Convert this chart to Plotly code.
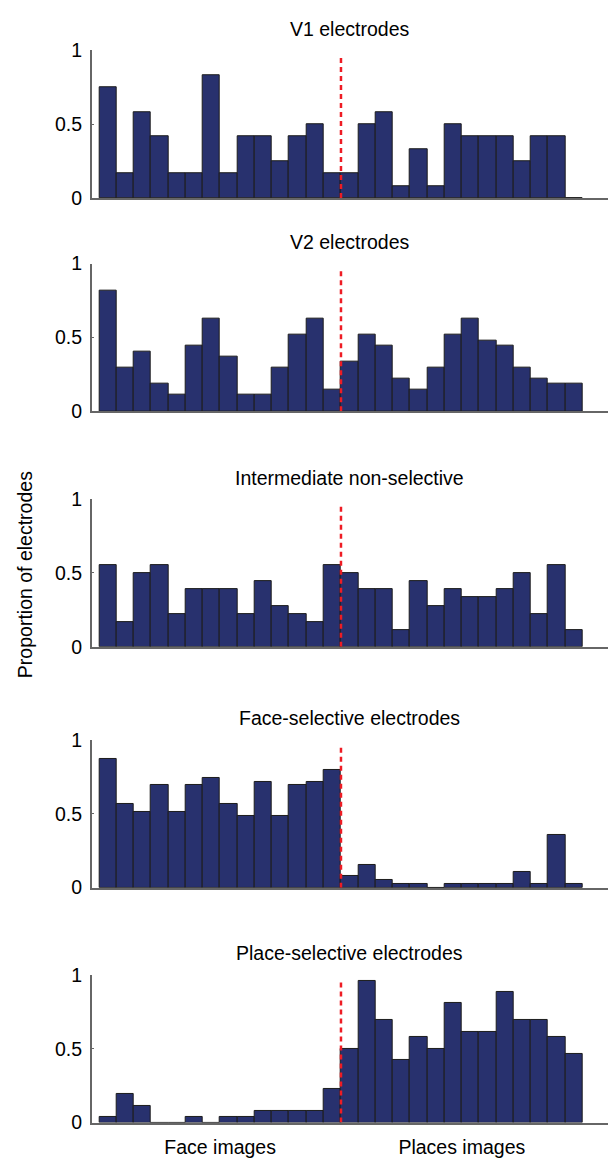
import plotly.graph_objects as go

# Image bins: 14 face images followed by 14 place images
image_index = list(range(1, 29))
boundary = 14.5

panel_titles = [
    "V1 electrodes",
    "V2 electrodes",
    "Intermediate non-selective",
    "Face-selective electrodes",
    "Place-selective electrodes",
]

v1_prop = [0.75, 0.167, 0.583, 0.417, 0.167, 0.167, 0.833, 0.167, 0.417, 0.417,
           0.25, 0.417, 0.5, 0.167, 0.167, 0.5, 0.583, 0.083, 0.333, 0.083,
           0.5, 0.417, 0.417, 0.417, 0.25, 0.417, 0.417, 0.0]
v2_prop = [0.815, 0.296, 0.407, 0.185, 0.111, 0.444, 0.630, 0.370, 0.111, 0.111,
           0.296, 0.519, 0.630, 0.148, 0.333, 0.519, 0.444, 0.222, 0.148, 0.296,
           0.519, 0.630, 0.481, 0.444, 0.296, 0.222, 0.185, 0.185]
inter_prop = [0.556, 0.167, 0.5, 0.556, 0.222, 0.389, 0.389, 0.389, 0.222, 0.444,
              0.278, 0.222, 0.167, 0.556, 0.5, 0.389, 0.389, 0.111, 0.444, 0.278,
              0.389, 0.333, 0.333, 0.389, 0.5, 0.222, 0.556, 0.111]
face_prop = [0.872, 0.564, 0.513, 0.692, 0.513, 0.692, 0.744, 0.564, 0.487, 0.718,
             0.487, 0.692, 0.718, 0.795, 0.077, 0.154, 0.051, 0.026, 0.026, 0.0,
             0.026, 0.026, 0.026, 0.026, 0.103, 0.026, 0.359, 0.026]
place_prop = [0.038, 0.192, 0.115, 0.0, 0.0, 0.038, 0.0, 0.038, 0.038, 0.077,
              0.077, 0.077, 0.077, 0.231, 0.5, 0.962, 0.692, 0.423, 0.577, 0.5,
              0.808, 0.615, 0.615, 0.885, 0.692, 0.692, 0.577, 0.462]

series = [v1_prop, v2_prop, inter_prop, face_prop, place_prop]

y_ticks = [0, 0.5, 1]
y_tick_text = ["0", "0.5", "1"]
x_label_pos = [7.5, 21.5]
x_label_text = ["Face images", "Places images"]

W, H = 613, 1166
FONT = "Liberation Sans, Arial, Helvetica, sans-serif"
FS = 19.5
BAR_FILL = "#28316e"
BAR_EDGE = "#1c1c1c"
AXIS_COL = "#666666"

# panel vertical extents in pixels (top of axis, bottom of axis)
panel_px = [(40, 190.7), (257.5, 408), (497.5, 648), (743, 893.5), (982.5, 1133)]
x_px = (91.7, 607.7)


def py(p):
    return 1 - p / H


fig = go.Figure()
layout = dict(
    width=W, height=H,
    margin=dict(l=0, r=0, t=0, b=0),
    plot_bgcolor="white", paper_bgcolor="white",
    showlegend=False, bargap=0,
    font=dict(family=FONT, size=FS, color="black"),
    shapes=[], annotations=[],
)

for i, (vals, title) in enumerate(zip(series, panel_titles)):
    k = i + 1
    xa = "x" if k == 1 else f"x{k}"
    ya = "y" if k == 1 else f"y{k}"
    fig.add_trace(go.Bar(
        x=image_index, y=vals, width=1,
        marker=dict(color=BAR_FILL, line=dict(color=BAR_EDGE, width=1)),
        xaxis=xa, yaxis=ya, hoverinfo="skip",
    ))
    top, bot = panel_px[i]
    last = (k == len(series))
    layout[f"xaxis{'' if k == 1 else k}"] = dict(
        domain=[x_px[0] / W, x_px[1] / W], anchor=ya,
        range=[0.06, 29.95], showgrid=False, zeroline=False,
        showline=True, linecolor=AXIS_COL, linewidth=1.5,
        ticks="", showticklabels=last,
        tickmode="array", tickvals=x_label_pos, ticktext=x_label_text,
        tickfont=dict(family=FONT, size=FS, color="black"),
        ticklabelstandoff=6,
    )
    layout[f"yaxis{'' if k == 1 else k}"] = dict(
        domain=[py(bot), py(top)], anchor=xa,
        range=[0, 1], showgrid=False, zeroline=False,
        showline=True, linecolor=AXIS_COL, linewidth=1.5,
        ticks="inside", ticklen=3, tickcolor=AXIS_COL, tickwidth=1.2,
        tickmode="array", tickvals=y_ticks, ticktext=y_tick_text,
        tickfont=dict(family=FONT, size=FS, color="black"),
        ticklabelstandoff=4,
    )
    # divider between face and place images
    layout["shapes"].append(dict(
        type="line", xref=xa, yref=ya,
        x0=boundary, x1=boundary, y0=0, y1=0.975,
        line=dict(color="#ee1c24", width=2.5, dash="5px,4px"),
        layer="above",
    ))
    layout["annotations"].append(dict(
        text=title, xref="paper", yref="paper",
        x=(x_px[0] + x_px[1]) / 2 / W, y=py(top - 22),
        xanchor="center", yanchor="middle", showarrow=False,
        font=dict(family=FONT, size=FS, color="black"),
    ))

layout["annotations"].append(dict(
    text="Proportion of electrodes", xref="paper", yref="paper",
    x=25 / W, y=py(575), textangle=-90,
    xanchor="center", yanchor="middle", showarrow=False,
    font=dict(family=FONT, size=FS, color="black"),
))

fig.update_layout(**layout)
fig.write_html("out.html")
